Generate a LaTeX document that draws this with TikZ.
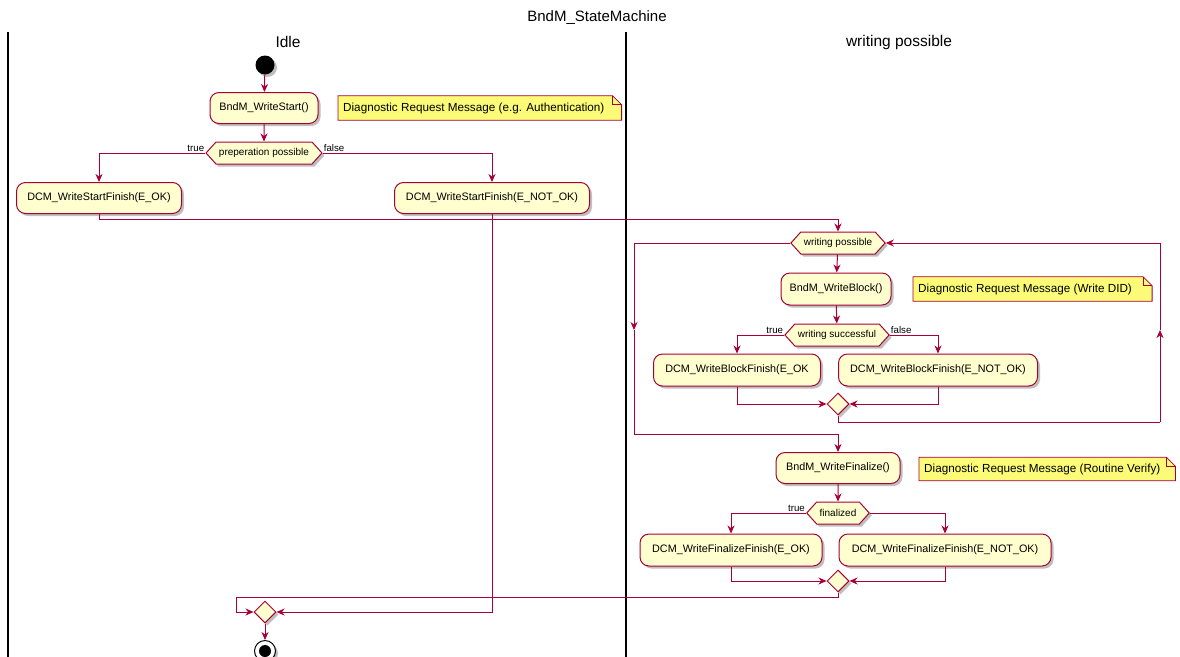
\documentclass[tikz,border=0pt]{standalone}
\usepackage{fontspec}
\setmainfont{Liberation Sans}
\usetikzlibrary{arrows.meta,shapes.geometric,shapes.symbols,shadows,backgrounds}
\definecolor{pu}{HTML}{A80036}
\definecolor{boxfill}{HTML}{FEFECE}
\definecolor{notefill}{HTML}{FBFB77}
\tikzset{
  shd/.style={drop shadow={shadow xshift=2.5pt,shadow yshift=-2.5pt,opacity=0.25,fill=black}},
  act/.style={draw=pu,fill=boxfill,rounded corners=9pt,line width=1pt,shd,
    font=\fontsize{10.8}{12}\selectfont,minimum height=31pt,inner sep=0pt},
  hex/.style={signal,signal to=west and east,signal pointer angle=96,draw=pu,fill=boxfill,
    line width=1pt,shd,font=\fontsize{10}{12}\selectfont,minimum height=22pt,inner xsep=3pt,inner ysep=0pt},
  merge/.style={diamond,draw=pu,fill=boxfill,line width=1pt,shd,minimum width=22pt,minimum height=22pt,inner sep=0pt},
  notebox/.style={anchor=west,font=\fontsize{11.7}{14}\selectfont,inner xsep=0pt,inner ysep=0pt,minimum height=24pt},
  lbl/.style={font=\fontsize{9.7}{11}\selectfont,inner sep=1pt},
  flow/.style={draw=pu,line width=1pt,-{Stealth[length=8pt,width=7pt,inset=2.5pt]}},
  line/.style={draw=pu,line width=1pt},
  lane/.style={font=\fontsize{15.5}{18}\selectfont},
  laneline/.style={draw=black,line width=1.6pt},
}
% #1 node name, #2 right padding
\newcommand\drawnote[2]{%
  \begin{scope}[on background layer]
    \coordinate (#1-sw) at ([xshift=-5pt]#1.south west);
    \coordinate (#1-nw) at ([xshift=-5pt]#1.north west);
    \coordinate (#1-se) at ([xshift=#2]#1.south east);
    \coordinate (#1-ne) at ([xshift=#2]#1.north east);
    \fill[black,opacity=0.22,xshift=2.5pt,yshift=-2.5pt] (#1-sw) -- (#1-nw) -- ([xshift=-9pt]#1-ne) -- ([yshift=-9pt]#1-ne) -- (#1-se) -- cycle;
    \filldraw[draw=pu,fill=notefill,line width=0.8pt] (#1-sw) -- (#1-nw) -- ([xshift=-9pt]#1-ne) -- ([yshift=-9pt]#1-ne) -- (#1-se) -- cycle;
    \draw[pu,line width=0.8pt] ([xshift=-9pt]#1-ne) |- ([yshift=-9pt]#1-ne);
  \end{scope}}
\begin{document}
\begin{tikzpicture}[x=1pt,y=-1pt]
\useasboundingbox (0,0) rectangle (1180,656);
% title and lanes
\node[font=\fontsize{15}{18}\selectfont] (title) at (597,18) {BndM\_StateMachine};
\node[lane] (lidle) at (288,42) {Idle};
\node[lane] (lwp) at (899,42) {writing possible};
\draw[laneline] (8,32) -- (8,660);
\draw[laneline] (626,32) -- (626,660);

% Idle lane
\node[circle,fill=black,minimum size=19pt,inner sep=0pt,shd] (start) at (265,65) {};
\node[act,minimum width=108pt] (ws) at (264,108) {BndM\_WriteStart()};
\node[notebox] (n1) at (343,108) {Diagnostic Request Message (e.g. Authentication)};
\drawnote{n1}{17pt}
\node[hex] (pn) at (264,153) {preperation possible};
\node[act,minimum width=165pt] (wsok) at (99,198) {DCM\_WriteStartFinish(E\_OK)};
\node[act,minimum width=195pt] (wsnok) at (492,198) {DCM\_WriteStartFinish(E\_NOT\_OK)};
\node[merge] (m3) at (265,612) {};
\node[circle,draw=black,fill=white,line width=1pt,minimum size=21pt,inner sep=0pt,shd] (end) at (265,651) {};
\node[circle,fill=black,minimum size=12pt,inner sep=0pt] (endin) at (end.center) {};

\draw[flow] (start) -- (ws);
\draw[flow] (ws) -- (pn);
\draw[flow] (pn.west) -| (wsok.north);
\draw[flow] (pn.east) -| (wsnok.north);
\node[lbl,anchor=south east] (t1) at (pn.west) {true};
\node[lbl,anchor=south west] (f1) at (pn.east) {false};

% writing possible lane
\node[hex] (wp) at (838,243) {writing possible};
\node[act,minimum width=110pt,minimum height=32pt] (wb) at (836,289) {BndM\_WriteBlock()};
\node[notebox] (n2) at (918,289) {Diagnostic Request Message (Write DID)};
\drawnote{n2}{20pt}
\node[hex] (wsu) at (837,335) {writing successful};
\node[act,minimum width=167pt,minimum height=32pt] (wbok) at (737,370) {DCM\_WriteBlockFinish(E\_OK};
\node[act,minimum width=199pt,minimum height=32pt] (wbnok) at (938,370) {DCM\_WriteBlockFinish(E\_NOT\_OK)};
\node[merge] (m1) at (838,404) {};
\node[act,minimum width=124pt] (wf) at (838,468) {BndM\_WriteFinalize()};
\node[notebox,minimum height=23pt] (n3) at (924,469) {Diagnostic Request Message (Routine Verify)};
\drawnote{n3}{15pt}
\node[hex] (fin) at (838,513) {finalized};
\node[act,minimum width=182pt,minimum height=32pt] (wfok) at (731,550) {DCM\_WriteFinalizeFinish(E\_OK)};
\node[act,minimum width=212pt,minimum height=32pt] (wfnok) at (945,550) {DCM\_WriteFinalizeFinish(E\_NOT\_OK)};
\node[merge] (m2) at (838,581) {};

\coordinate (c1) at (838,219);
\coordinate (lmid) at (634,330);
\coordinate (lbot) at (634,434);
\coordinate (rbot) at (1160,422);
\coordinate (rmid) at (1160,330);
\coordinate (b1) at (236,597);

\draw[line] (wsok.south) |- (c1);
\draw[flow] (c1) -- (wp.north);
\draw[flow] (wp) -- (wb);
\draw[flow] (wb) -- (wsu);
\draw[flow] (wsu.west) -| (wbok.north);
\draw[flow] (wsu.east) -| (wbnok.north);
\node[lbl,anchor=south east] (t2) at (wsu.west) {true};
\node[lbl,anchor=south west] (f2) at (wsu.east) {false};
\draw[flow] (wbok.south) |- (m1.west);
\draw[flow] (wbnok.south) |- (m1.east);
\draw[line] (m1.south) |- (rbot);
\draw[flow] (rbot) -- (rmid);
\draw[flow] (rmid) |- (wp.east);
\draw[flow] (wp.west) -| (lmid);
\draw[line] (lmid) -- (lbot);
\draw[flow] (lbot) -| (wf.north);
\draw[flow] (wf) -- (fin);
\draw[flow] (fin.west) -| (wfok.north);
\draw[flow] (fin.east) -| (wfnok.north);
\node[lbl,anchor=south east] (t3) at (fin.west) {true};
\draw[flow] (wfok.south) |- (m2.west);
\draw[flow] (wfnok.south) |- (m2.east);
\draw[line] (m2.south) |- (b1);
\draw[flow] (b1) |- (m3.west);
\draw[flow] (wsnok.south) |- (m3.east);
\draw[flow] (m3) -- (end);
\end{tikzpicture}
\end{document}
